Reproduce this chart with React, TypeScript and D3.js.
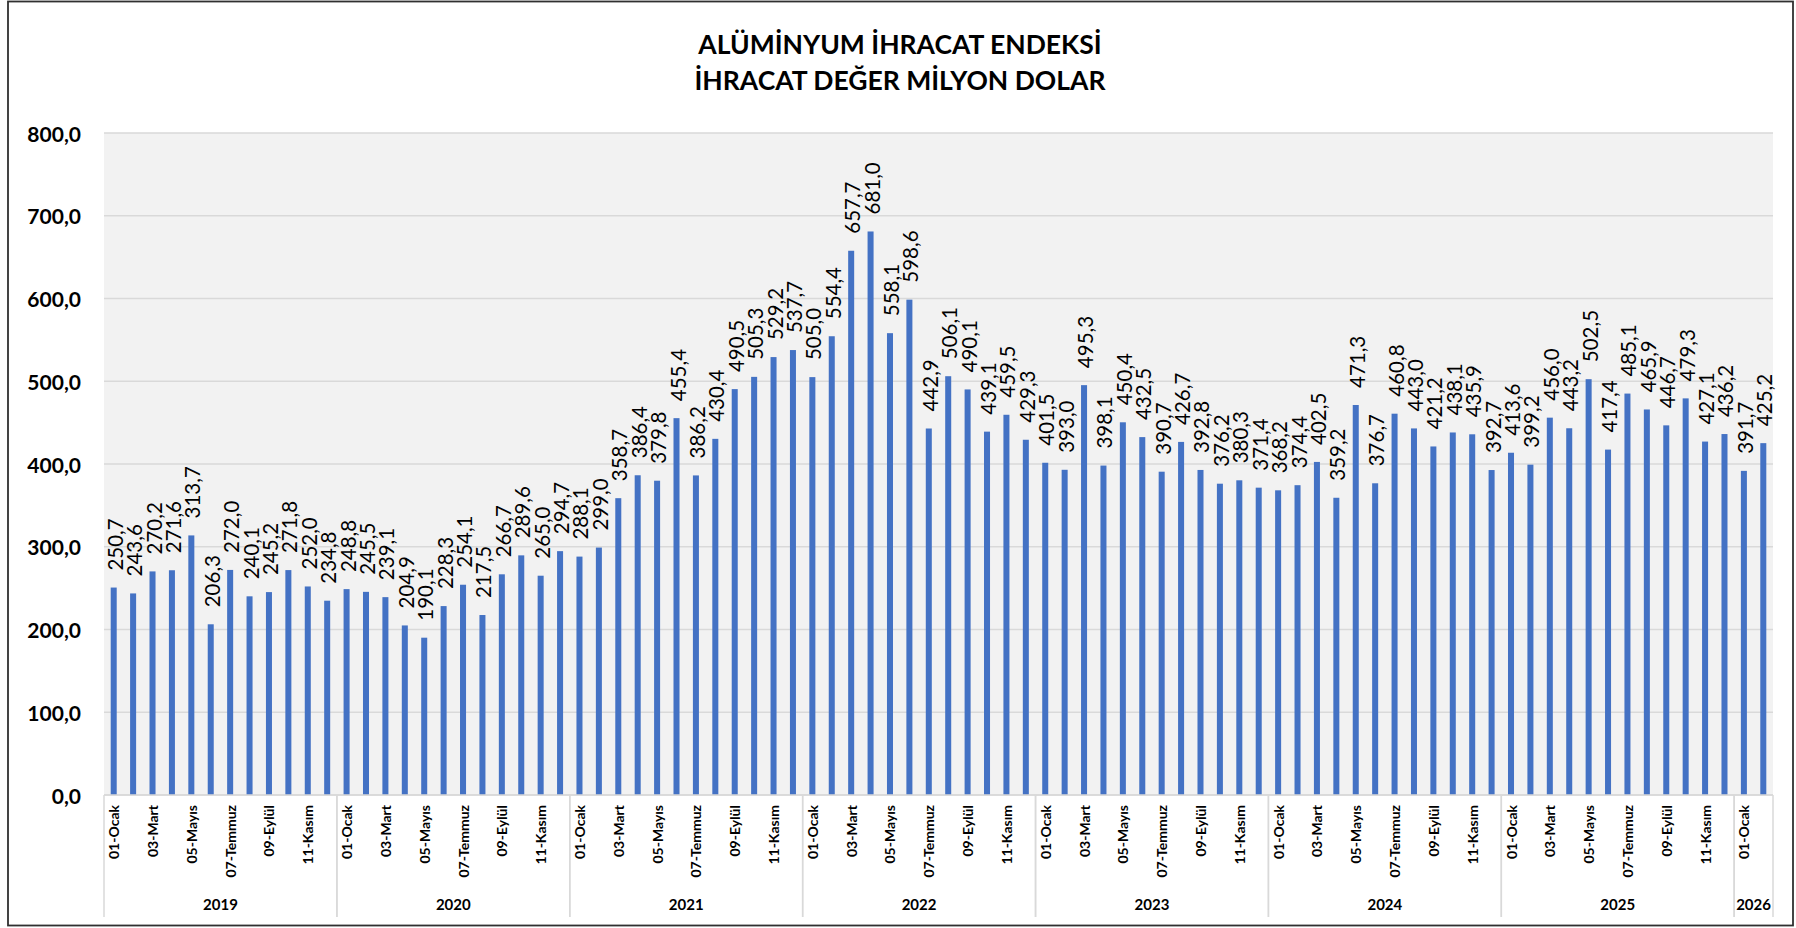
import React from "react";
import * as d3 from "d3";

const titleLines = ["ALÜMİNYUM İHRACAT ENDEKSİ", "İHRACAT DEĞER MİLYON DOLAR"];
const years = ["2019", "2020", "2021", "2022", "2023", "2024", "2025", "2026"];
const monthNames = ["01-Ocak", "02-Şubat", "03-Mart", "04-Nisan", "05-Mayıs", "06-Haziran", "07-Temmuz", "08-Ağustos", "09-Eylül", "10-Ekim", "11-Kasım", "12-Aralık"];
const v2019 = [250.7, 243.6, 270.2, 271.6, 313.7, 206.3, 272.0, 240.1, 245.2, 271.8, 252.0, 234.8];
const v2020 = [248.8, 245.5, 239.1, 204.9, 190.1, 228.3, 254.1, 217.5, 266.7, 289.6, 265.0, 294.7];
const v2021 = [288.1, 299.0, 358.7, 386.4, 379.8, 455.4, 386.2, 430.4, 490.5, 505.3, 529.2, 537.7];
const v2022 = [505.0, 554.4, 657.7, 681.0, 558.1, 598.6, 442.9, 506.1, 490.1, 439.1, 459.5, 429.3];
const v2023 = [401.5, 393.0, 495.3, 398.1, 450.4, 432.5, 390.7, 426.7, 392.8, 376.2, 380.3, 371.4];
const v2024 = [368.2, 374.4, 402.5, 359.2, 471.3, 376.7, 460.8, 443.0, 421.2, 438.1, 435.9, 392.7];
const v2025 = [413.6, 399.2, 456.0, 443.2, 502.5, 417.4, 485.1, 465.9, 446.7, 479.3, 427.1, 436.2];
const v2026 = [391.7, 425.2];
const yearValues = [v2019, v2020, v2021, v2022, v2023, v2024, v2025, v2026];
const yTicks = [0, 100, 200, 300, 400, 500, 600, 700, 800];

type Datum = { key: string; year: string; month: string; mi: number; value: number };
const data: Datum[] = [];
years.forEach((y, yi) => {
  yearValues[yi].forEach((v, mi) => {
    data.push({ key: `${y}-${mi}`, year: y, month: monthNames[mi], mi, value: v });
  });
});

const fmt = (v: number) => d3.format(".1f")(v).replace(".", ",");

export default function App() {
  const W = 1796, H = 928;
  const left = 104, right = 1773, top = 133, bottom = 795;
  const x = d3.scaleBand<string>().domain(data.map(d => d.key)).range([left, right]).paddingInner(0.69).paddingOuter(0.345);
  const y = d3.scaleLinear().domain([0, 800]).range([bottom, top]);
  const step = x.step();
  const font = "Lato, 'Open Sans', sans-serif";

  const groups = years.map(yr => {
    const items = data.filter(d => d.year === yr);
    const x0 = (x(items[0].key) as number) - (step - x.bandwidth()) / 2;
    const x1 = (x(items[items.length - 1].key) as number) + x.bandwidth() + (step - x.bandwidth()) / 2;
    return { yr, x0, x1 };
  });

  return (
    <svg width={W} height={H} style={{ position: "absolute", left: 0, top: 0, background: "#fff" }} fontFamily={font}>
      <rect x={8} y={1.5} width={1785} height={924} fill="#fff" stroke="#303030" strokeWidth={1.8} />
      {titleLines.map((t, i) => (
        <text key={t} x={900} y={44 + i * 36} textAnchor="middle" dominantBaseline="central" fontWeight={700} fontSize={26.5} fill="#000">{t}</text>
      ))}
      <rect x={left} y={top} width={right - left} height={bottom - top} fill="#F2F2F2" />
      {yTicks.map(t => (
        <g key={t}>
          <line x1={left} x2={right} y1={y(t)} y2={y(t)} stroke="#D9D9D9" strokeWidth={1.5} />
          <text x={81} y={y(t)} textAnchor="end" dominantBaseline="central" fontWeight={700} fontSize={21} fill="#000">{fmt(t)}</text>
        </g>
      ))}
      {data.map(d => {
        const bx = x(d.key) as number;
        const cx = bx + x.bandwidth() / 2;
        const by = y(d.value);
        return (
          <g key={d.key}>
            <rect x={bx} y={by} width={x.bandwidth()} height={bottom - by} fill="#4472C4" />
            <text transform={`translate(${cx + 1},${by - 17}) rotate(-90)`} textAnchor="start" dominantBaseline="central" fontSize={20.5} fill="#000">{fmt(d.value)}</text>
            {d.mi % 2 === 0 && (
              <text transform={`translate(${cx},${805}) rotate(-90)`} textAnchor="end" dominantBaseline="central" fontWeight={700} fontSize={14} fill="#000">{d.month}</text>
            )}
          </g>
        );
      })}
      <line x1={left} x2={right} y1={bottom} y2={bottom} stroke="#D9D9D9" strokeWidth={1.5} />
      {groups.map(g => (
        <g key={g.yr}>
          <line x1={g.x0} x2={g.x0} y1={bottom} y2={917} stroke="#D9D9D9" strokeWidth={1.5} />
          <line x1={g.x1} x2={g.x1} y1={bottom} y2={917} stroke="#D9D9D9" strokeWidth={1.5} />
          <text x={(g.x0 + g.x1) / 2} y={904} textAnchor="middle" dominantBaseline="central" fontWeight={700} fontSize={15} fill="#000">{g.yr}</text>
        </g>
      ))}
    </svg>
  );
}
